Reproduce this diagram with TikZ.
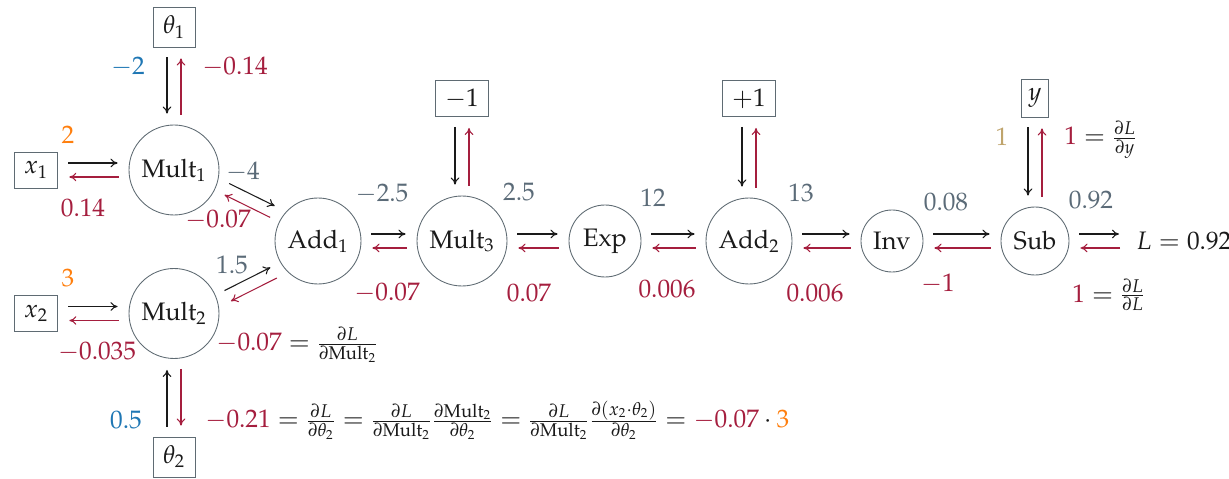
\documentclass[tikz,border=0pt]{standalone}
\usepackage[T1]{fontenc}
\usepackage{mathpazo}
\usetikzlibrary{arrows.meta}
\DeclareMathSizes{14.4}{14.4}{10.5}{7.5}
\definecolor{ink}{HTML}{1A1A1A}
\definecolor{edge}{HTML}{5F6B73}
\definecolor{wblue}{HTML}{1F77B4}
\definecolor{xorange}{HTML}{FF7F0E}
\definecolor{gradred}{HTML}{A51E3E}
\definecolor{valgray}{HTML}{5B6B78}
\definecolor{ytan}{HTML}{BFA46C}

\begin{document}
\begin{tikzpicture}[x=1cm,y=1cm,>={To[length=4pt,width=5pt]},line width=.6pt,every node/.style={font=\Large,text=ink},op/.style={circle,draw=edge,line width=.5pt,inner sep=0pt},var/.style={draw=edge,line width=.5pt,inner xsep=.2cm,minimum height=.72cm},fwd/.style={->,ink,shorten <=.2cm,shorten >=.22cm},bwd/.style={->,gradred,shorten <=.2cm,shorten >=.22cm},eqn/.style={anchor=west}]
\path[use as bounding box] (0,0) rectangle (24.58,9.58);

% inputs and parameters
\node[var,minimum height=.8cm] (th1) at (3.48,9.04) {$\theta_1$};
\node[var] (x1) at (0.72,6.18) {$x_1$};
\node[var] (x2) at (0.72,3.31) {$x_2$};
\node[var,minimum height=.8cm] (th2) at (3.48,0.44) {$\theta_2$};
\node[var] (m1) at (9.24,7.61) {$-1$};
\node[var] (p1) at (14.98,7.61) {$+1$};
\node[var,inner xsep=.14cm,minimum height=.76cm] (yv) at (20.7,7.62) {$y$};

% operations
\node[op,minimum size=1.8cm] (Mult1) at (3.48,6.18) {Mult$_1$};
\node[op,minimum size=1.8cm] (Mult2) at (3.48,3.31) {Mult$_2$};
\node[op,minimum size=1.72cm] (Add1) at (6.36,4.76) {Add$_1$};
\node[op,minimum size=1.8cm] (Mult3) at (9.24,4.76) {Mult$_3$};
\node[op,minimum size=1.44cm] (Exp) at (12.1,4.76) {Exp};
\node[op,minimum size=1.72cm] (Add2) at (14.98,4.76) {Add$_2$};
\node[op,minimum size=1.24cm] (Inv) at (17.84,4.76) {Inv};
\node[op,minimum size=1.36cm] (Sub) at (20.7,4.76) {Sub};
\node[anchor=west] (Lout) at (22.6,4.76) {$L = 0.92$};

% forward and backward passes
\foreach \a/\b in {x1/Mult1,x2/Mult2,Add1/Mult3,Mult3/Exp,Exp/Add2,Add2/Inv,Inv/Sub,Sub/Lout}{
  \draw[fwd,transform canvas={yshift=.14cm}] (\a) -- (\b);
  \draw[bwd,transform canvas={yshift=-.14cm}] (\b) -- (\a);
}
\foreach \a/\b in {th1/Mult1,m1/Mult3,p1/Add2,yv/Sub}{
  \draw[fwd,transform canvas={xshift=-.14cm}] (\a) -- (\b);
  \draw[bwd,transform canvas={xshift=.14cm}] (\b) -- (\a);
}
\draw[fwd,transform canvas={xshift=-.14cm}] (th2) -- (Mult2);
\draw[bwd,transform canvas={xshift=.14cm}] (Mult2) -- (th2);
\draw[fwd,transform canvas={shift={(.11,.22)}}] (Mult1) -- (Add1);
\draw[bwd] (Add1) -- (Mult1);
\draw[fwd,transform canvas={shift={(.02,-.04)}}] (Mult2) -- (Add1);
\draw[bwd,transform canvas={shift={(.13,-.26)}}] (Add1) -- (Mult2);

% values
\node[text=wblue] (vth1) at (2.56,8.24) {$-2$};
\node[text=xorange] (vx1) at (1.36,6.88) {$2$};
\node[text=xorange] (vx2) at (1.36,4.02) {$3$};
\node[text=wblue] (vth2) at (2.52,1.18) {$0.5$};
\node[text=valgray] (vm1) at (4.86,6.14) {$-4$};
\node[text=valgray] (vm2) at (4.64,4.28) {$1.5$};
\node[text=valgray] (va1) at (7.64,5.7) {$-2.5$};
\node[text=valgray] (vm3) at (10.38,5.74) {$2.5$};
\node[text=valgray] (vex) at (13.06,5.62) {$12$};
\node[text=valgray] (va2) at (16.02,5.72) {$13$};
\node[text=valgray] (vin) at (18.92,5.54) {$0.08$};
\node[text=valgray] (vsu) at (21.82,5.58) {$0.92$};
\node[text=ytan] (vy) at (20.04,6.84) {$1$};

% gradients
\node[text=gradred] (gth1) at (4.7,8.24) {$-0.14$};
\node[text=gradred] (gx1) at (1.66,5.42) {$0.14$};
\node[text=gradred] (gx2) at (1.94,2.54) {$-0.035$};
\node[text=gradred] (gm1) at (4.36,5.18) {$-0.07$};
\node[text=gradred] (ga1) at (7.74,3.72) {$-0.07$};
\node[text=gradred] (gm3) at (10.58,3.72) {$0.07$};
\node[text=gradred] (gex) at (13.34,3.8) {$0.006$};
\node[text=gradred] (ga2) at (16.3,3.72) {$0.006$};
\node[text=gradred] (gin) at (18.76,3.9) {$-1$};
\node[eqn] (gy) at (21.16,6.78) {$\color{gradred}1\color{ink}=\frac{\partial L}{\partial y}$};
\node[eqn] (gL) at (21.32,3.68) {$\color{gradred}1\color{ink}=\frac{\partial L}{\partial L}$};
\node[eqn] (gm2) at (4.2,2.68) {$\color{gradred}-0.07\color{ink}=\frac{\partial L}{\partial \mathrm{Mult}_2}$};
\node[eqn] (gth2) at (3.98,1.18) {$\color{gradred}-0.21\color{ink}=\frac{\partial L}{\partial \theta_2}=\frac{\partial L}{\partial \mathrm{Mult}_2}\frac{\partial \mathrm{Mult}_2}{\partial \theta_2}=\frac{\partial L}{\partial \mathrm{Mult}_2}\frac{\partial (x_2\cdot\theta_2)}{\partial \theta_2}=\color{gradred}-0.07\color{ink}\cdot\color{xorange}3$};

\end{tikzpicture}
\end{document}
